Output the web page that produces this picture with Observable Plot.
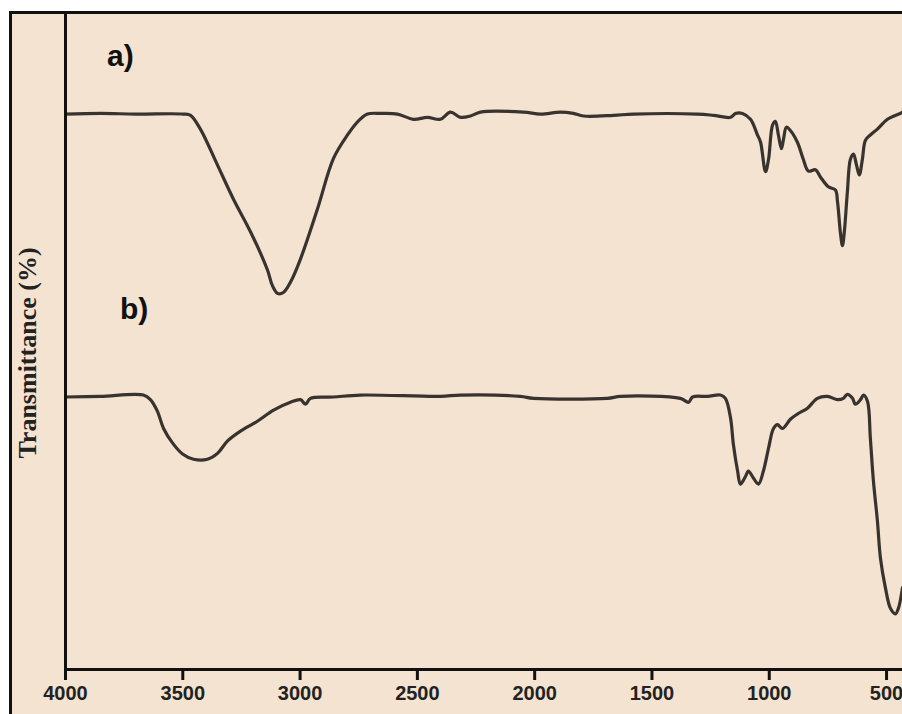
<!DOCTYPE html>
<html>
<head>
<meta charset="utf-8">
<script src="https://cdn.jsdelivr.net/npm/d3@7"></script>
<script src="https://cdn.jsdelivr.net/npm/@observablehq/plot@0.6"></script>
<style>
  html, body { margin: 0; padding: 0; background: #ffffff; }
  #frame {
    position: absolute; left: 9px; top: 11px;
    width: 890px; height: 700px;
    border-left: 3px solid #111; border-top: 3px solid #111;
    background: #f3e3d0; overflow: hidden;
  }
  #chart svg { display: block; background: transparent; }
  #ylabel {
    position: absolute; left: 16px; top: 339px;
    transform: translate(-50%, -50%) rotate(-90deg);
    font-family: "Liberation Serif", "Times New Roman", serif;
    font-weight: bold; font-size: 26px; color: #222; white-space: nowrap;
  }
  .tag {
    position: absolute; font-family: "Liberation Sans", Arial, sans-serif;
    font-weight: bold; font-size: 30px; color: #111; line-height: 1;
  }
  #chart g[aria-label="x-axis tick label"] text { font-weight: bold; }
</style>
</head>
<body>
<div id="frame">
  <div id="chart"></div>
  <div id="ylabel">Transmittance (%)</div>
  <div class="tag" style="left:95px; top:27px;">a)</div>
  <div class="tag" style="left:108px; top:280px;">b)</div>
</div>
<script>
// Spectrum a)
const aWavenumber = [4000,3850,3700,3497,3467,3425,3352,3284,3211,3139,3118,3095,3070,3040,2998,2926,2858,2800,2750,2713,2657,2585,2517,2457,2402,2359,2316,2274,2231,2048,1975,1890,1835,1792,1664,1579,1306,1238,1165,1144,1114,1080,1050,1037,1016,1003,986,974,961,948,939,927,910,880,855,833,803,782,748,718,709,697,688,680,667,654,641,628,616,603,590,569,539,496,441,432];
const aTransmittance = [84.8,84.9,84.8,84.8,84.6,82.5,77.0,71.8,66.8,61.0,58.6,57.4,57.6,59.2,62.7,70.3,78.0,81.5,83.8,84.8,84.9,84.8,84.0,84.3,84.0,85.1,84.3,84.5,85.1,85.1,84.8,85.1,84.9,84.5,84.6,84.8,84.8,84.6,84.3,84.9,84.9,84.0,81.6,80.5,76.0,77.9,83.1,83.7,81.6,79.5,81.0,82.8,82.3,80.5,77.9,76.1,76.3,75.2,73.7,73.2,71.4,66.8,64.7,66.8,72.9,77.9,78.7,77.0,75.5,77.9,80.8,81.6,82.5,84.0,84.9,85.1];

// Spectrum b)
const bWavenumber = [4000,3851,3668,3638,3608,3582,3544,3501,3454,3395,3352,3309,3254,3182,3113,3041,2998,2977,2956,2858,2743,2402,2316,2061,2005,1690,1634,1379,1344,1327,1263,1208,1187,1165,1153,1135,1123,1101,1089,1067,1046,1025,1003,982,965,944,910,880,837,795,752,709,684,667,645,633,611,598,581,569,556,539,526,505,483,462,449,432];
const bTransmittance = [41.6,41.7,41.9,41.2,39.4,36.8,34.6,32.9,32.1,32.1,33.0,34.9,36.4,37.9,39.6,40.8,41.2,40.5,41.4,41.6,41.9,41.7,41.9,41.7,41.4,41.4,41.7,41.4,40.8,41.6,41.7,41.9,41.4,38.4,34.4,30.3,28.3,29.5,30.3,29.2,28.3,30.3,33.8,36.8,37.4,36.8,38.2,39.0,39.9,41.4,41.7,41.2,41.4,42.0,41.4,40.5,41.2,41.9,40.9,35.3,28.8,22.7,17.0,12.5,9.3,8.5,9.4,12.5];

const xTicks = [4000, 3500, 3000, 2500, 2000, 1500, 1000, 500];

const seriesA = aWavenumber.map((w, i) => ({w, t: aTransmittance[i]}));
const seriesB = bWavenumber.map((w, i) => ({w, t: bTransmittance[i]}));

const lineColor = "#38332f";

const chart = Plot.plot({
  width: 890,
  height: 700,
  marginLeft: 53,
  marginRight: 0,
  marginTop: 0,
  marginBottom: 45,
  style: {background: "transparent", fontFamily: "'Liberation Sans', Arial, sans-serif", color: "#222"},
  x: {domain: [4000, 432]},
  y: {domain: [0, 100], axis: null},
  marks: [
    Plot.line(seriesA, {x: "w", y: "t", curve: "catmull-rom", stroke: lineColor, strokeWidth: 3.2, clip: true}),
    Plot.line(seriesB, {x: "w", y: "t", curve: "catmull-rom", stroke: lineColor, strokeWidth: 3.2, clip: true}),
    Plot.ruleX([4000], {stroke: "#111", strokeWidth: 3}),
    Plot.ruleY([0], {stroke: "#111", strokeWidth: 3}),
    Plot.axisX({
      ticks: xTicks, tickFormat: d => String(d), tickSize: 11, tickPadding: 5,
      stroke: "#111", strokeWidth: 3, fontSize: 20, fontWeight: "bold", fill: "#222",
      label: null
    })
  ]
});
document.getElementById("chart").appendChild(chart);
</script>
</body>
</html>
